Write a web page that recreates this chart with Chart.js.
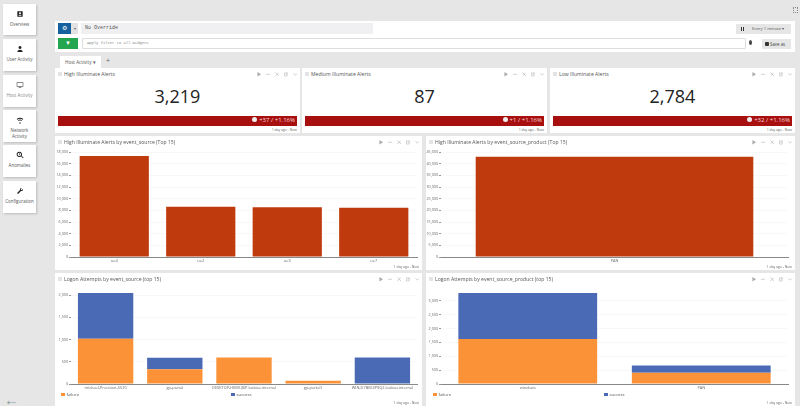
<!DOCTYPE html>
<html>
<head>
<meta charset="utf-8">
<title>Host Activity</title>
<script src="https://cdn.jsdelivr.net/npm/chart.js@4"></script>
<style>
  html, body { margin: 0; padding: 0; }
  body { width: 800px; height: 406px; overflow: hidden; position: relative; background: #e6e6e6; font-family: "Open Sans", sans-serif; color: #444; }
  .box { position: absolute; box-sizing: border-box; }
  .panel { position: absolute; background: #fff; box-sizing: border-box; }
  .panel canvas { position: absolute; left: 0; top: 0; }
  .title { position: absolute; left: 9px; top: 2px; font-size: 5.1px; line-height: 8px; color: #555; white-space: nowrap; }
  .title:before { content: ''; position: absolute; left: -6px; top: 2px; width: 3.5px; height: 3.5px; background: #e4e4e4; }
  .tools { position: absolute; right: 3px; top: 4px; height: 6px; display: flex; gap: 4.5px; }
  .tools svg { width: 4.5px; height: 4.5px; fill: #aaa; stroke: #aaa; }
  .ago { position: absolute; right: 3px; bottom: 1px; font-size: 3.4px; line-height: 5px; color: #666; white-space: nowrap; }
  .big { position: absolute; left: 0; right: 0; top: 15px; text-align: center; font-size: 18px; line-height: 26px; color: #222; }
  .delta { position: absolute; left: 3px; right: 3px; top: 48px; height: 9.5px; background: #a80f0f; color: #f4d8d8; font-size: 6px; line-height: 9.5px; text-align: right; padding-right: 2px; box-sizing: border-box; }
  .delta i { display: inline-block; width: 5px; height: 5px; border-radius: 50%; background: #eee; margin-right: 2px; }
  .tile { position: absolute; left: 3px; width: 33px; background: #fff; box-shadow: 1px 1px 2px #bbb; text-align: center; font-size: 4.5px; line-height: 5.6px; color: #555; box-sizing: border-box; padding-top: 6px; }
  .tile svg { display: block; margin: 0 auto 4px; width: 8px; height: 8px; fill: #222; }
  .legend { position: absolute; font-size: 4.2px; line-height: 6px; color: #555; white-space: nowrap; }
  .legend i { display: inline-block; width: 3.5px; height: 3.5px; margin-right: 2px; }
</style>
</head>
<body>
<div id="sidebar"></div>
<div class="box" style="left:55px;top:21px;width:740px;height:31px;background:#fff"></div>
<div class="box" style="left:58px;top:23px;width:13px;height:11px;background:#15609f;color:#fff;font-size:6px;line-height:11px;text-align:center">&#9881;</div>
<div class="box" style="left:71px;top:23px;width:7px;height:11px;background:#e2e2e2;color:#666;font-size:4px;line-height:11px;text-align:center">&#9662;</div>
<div class="box" style="left:81px;top:23px;width:292px;height:11px;background:#f0f0f2;font-family:'Liberation Mono',monospace;font-size:5px;line-height:11px;padding-left:4px;color:#555">No Override</div>
<div class="box" style="left:736px;top:24px;width:55px;height:10px;background:#e6e6e6;font-size:4.2px;line-height:10px;color:#555;padding-left:16px;white-space:nowrap">Every 1 minute &#9662;</div>
<div class="box" style="left:741px;top:27px;width:1px;height:4px;background:#333;box-shadow:2px 0 0 #333"></div>
<div class="box" style="left:58px;top:38px;width:20px;height:11px;background:#23a64f;color:#fff;font-size:6px;line-height:11px;text-align:center">&#9660;</div>
<div class="box" style="left:82px;top:38px;width:664px;height:11px;background:#fff;border:1px solid #ddd;border-radius:1px;font-family:'Liberation Mono',monospace;font-size:3.8px;line-height:9px;padding-left:4px;color:#888">Apply filter to all widgets</div>
<div class="box" style="left:749px;top:40px;width:3px;height:5px;background:#444;border-radius:50%"></div>
<div class="box" style="left:762px;top:39px;width:29px;height:10px;background:#e6e6e6;font-size:4.4px;line-height:10px;color:#444;padding-left:8px;white-space:nowrap">Save as</div>
<div class="box" style="left:765px;top:42px;width:4px;height:4px;background:#333;border-radius:1px"></div>
<div class="box" style="left:60px;top:56px;width:41px;height:12px;background:#fff;font-size:4.6px;line-height:12px;color:#555;padding-left:5px;white-space:nowrap">Host Activity &#9662;</div>
<div class="box" style="left:106px;top:56px;width:6px;height:10px;font-size:7px;line-height:10px;color:#666">+</div>
<div class="box" style="left:793px;top:7px;width:5px;height:6px;border:1px dotted #888"></div>
<div class="box" style="left:4px;top:391px;font-size:15px;line-height:16px;color:#8a9a9a">&#8592;</div>
<div id="panels"></div>

<script>
// values
const statTitles = ['High Illuminate Alerts', 'Medium Illuminate Alerts', 'Low Illuminate Alerts'];
const statValues = ['3,219', '87', '2,784'];
const statDeltas = ['+37 / +1.16%', '+1 / +1.16%', '+32 / +1.16%'];

const sourceLabels = ['ue4', 'ue2', 'ue3', 'ue7'];
const sourceValues = [17300, 8600, 8550, 8450];
const sourceTicks = [0, 2000, 4000, 6000, 8000, 10000, 12000, 14000, 16000, 18000];
const productLabels = ['PAN'];
const productValues = [43000];
const productTicks = [0, 5000, 10000, 15000, 20000, 25000, 30000, 35000, 40000, 45000];

const logonSourceLabels = ['michael-Precision-5520', 'gp-portal', 'DESKTOP-HMVUJ6P.lasbias.internal', 'gp-portal1', 'WIN-D7BE63P9Q2.lasbias.internal'];
const logonSourceFailure = [1020, 335, 595, 75, 0];
const logonSourceSuccess = [1030, 255, 0, 0, 595];
const logonSourceTicks = [0, 500, 1000, 1500, 2000];
const logonProductLabels = ['windows', 'PAN'];
const logonProductFailure = [1620, 405];
const logonProductSuccess = [1660, 265];
const logonProductTicks = [0, 500, 1000, 1500, 2000, 2500, 3000];

const RUST = '#bf3a0c';
const ORANGE = '#fb9238';
const BLUE = '#4a6ab5';

const toolIcons = [
  '<svg viewBox="0 0 10 10"><path d="M1 0l8 5-8 5z" stroke="none"/></svg>',
  '<svg viewBox="0 0 10 10"><path d="M0 5h10" stroke-width="1.2" fill="none"/></svg>',
  '<svg viewBox="0 0 10 10"><path d="M1 1l8 8M9 1l-8 8" stroke-width="1.2" fill="none"/></svg>',
  '<svg viewBox="0 0 10 10"><path d="M1 2h6v7H1zM4 6l5-5" stroke-width="1.1" fill="none"/></svg>',
  '<svg viewBox="0 0 10 10"><path d="M1 3l4 4 4-4" stroke-width="1.2" fill="none"/></svg>'
].join('');

const tiles = [
  { label: 'Overview', top: 4, height: 31, icon: 'M4 4h16v16H4zM12 7a3 3 0 1 0 .01 0zM7 17c0-3 10-3 10 0z' },
  { label: 'User Activity', top: 39, height: 32, icon: 'M12 3a4.5 4.5 0 1 0 .01 0zM4 21c0-9 16-9 16 0z' },
  { label: 'Host Activity', top: 75, height: 32, icon: 'M2 4h20v13H2zM4 6v9h16V6zM8 19h8v2H8z', dim: true },
  { label: 'Network Activity', top: 110, height: 32, icon: 'M12 19a2 2 0 1 0 .01 0zM2 9c6-5 14-5 20 0l-2 2c-5-4-11-4-16 0zM6 13c4-3 8-3 12 0l-2 2c-3-2-5-2-8 0z' },
  { label: 'Anomalies', top: 145, height: 32, icon: 'M10 2a8 8 0 1 0 .01 0zM10 5a5 5 0 1 1-.01 0zM15 16l2-2 6 6-2 2zM9 7h2v6H9z' },
  { label: 'Configuration', top: 181, height: 32, icon: 'M21 6l-4 4-3-3 4-4c-4-1-7 2-6 6L3 18l3 3 9-9c4 1 7-2 6-6z' }
];

document.getElementById('sidebar').innerHTML = tiles.map(t => `
  <div class="tile" style="top:${t.top}px;height:${t.height}px;${t.dim ? 'color:#888' : ''}">
    <svg viewBox="0 0 24 24" style="${t.dim ? 'fill:#666' : ''}"><path fill-rule="evenodd" d="${t.icon}"/></svg>${t.label}
  </div>`).join('');

function addPanel(left, top, width, height, title, inner) {
  const el = document.createElement('div');
  el.className = 'panel';
  el.style.cssText = `left:${left}px;top:${top}px;width:${width}px;height:${height}px`;
  el.innerHTML = `<div class="title">${title}</div><div class="tools">${toolIcons}</div>${inner || ''}<div class="ago">1 day ago - Now</div>`;
  document.getElementById('panels').appendChild(el);
  return el;
}

[55, 302, 550].forEach((left, i) => {
  addPanel(left, 68, 245, 65, statTitles[i],
    `<div class="big">${statValues[i]}</div><div class="delta"><i></i>${statDeltas[i]}</div>`);
});

// plot gives the wanted plot edges in panel pixels
function addChart(box, title, plot, labels, datasets, yMax, yTicks) {
  const panel = addPanel(box.left, box.top, box.width, box.height, title);
  const canvas = document.createElement('canvas');
  canvas.width = box.width;
  canvas.height = box.height;
  panel.insertBefore(canvas, panel.firstChild);

  new Chart(canvas, {
    type: 'bar',
    data: { labels, datasets },
    options: {
      responsive: false,
      animation: false,
      layout: { padding: { left: 0, right: box.width - plot.right, top: plot.top, bottom: 0 } },
      plugins: { legend: { display: false }, tooltip: { enabled: false } },
      datasets: { bar: { categoryPercentage: 0.8, barPercentage: 1, borderWidth: 0 } },
      scales: {
        x: {
          stacked: true,
          afterFit: s => { s.height = box.height - plot.bottom; },
          grid: { display: false, drawTicks: false },
          border: { color: '#888', width: 1 },
          ticks: { color: '#666', font: { family: 'Open Sans', size: 3.9 }, padding: 2, maxRotation: 0, autoSkip: false }
        },
        y: {
          stacked: true,
          min: 0,
          max: yMax,
          afterFit: s => { s.width = plot.left; },
          afterBuildTicks: s => { s.ticks = yTicks.map(value => ({ value })); },
          grid: { color: '#f8f8f8', tickColor: '#999', tickLength: 2 },
          border: { display: false },
          ticks: { autoSkip: false, color: '#666', font: { family: 'Open Sans', size: 3.7 }, padding: 1, callback: v => v.toLocaleString('en-US') }
        }
      }
    }
  });
  return panel;
}

function addLegend(panel, x1, x2) {
  panel.insertAdjacentHTML('beforeend', `
    <div class="legend" style="left:${x1}px;top:119px"><i style="background:${ORANGE}"></i>failure</div>
    <div class="legend" style="left:${x2}px;top:119px"><i style="background:${BLUE}"></i>success</div>`);
}

const stackedSets = (failure, success) => [
  { label: 'failure', data: failure, backgroundColor: ORANGE },
  { label: 'success', data: success, backgroundColor: BLUE }
];

addChart({ left: 55, top: 136, width: 367, height: 134 }, 'High Illuminate Alerts by event_source (Top 15)',
  { left: 16, right: 362, top: 16, bottom: 121 }, sourceLabels,
  [{ label: 'count', data: sourceValues, backgroundColor: RUST }], 18000, sourceTicks);

addChart({ left: 426, top: 136, width: 369, height: 134 }, 'High Illuminate Alerts by event_source_product (Top 15)',
  { left: 15, right: 362, top: 16, bottom: 121 }, productLabels,
  [{ label: 'count', data: productValues, backgroundColor: RUST }], 45000, productTicks);

const p5 = addChart({ left: 55, top: 273, width: 367, height: 133 }, 'Logon Attempts by event_source (top 15)',
  { left: 16, right: 362, top: 20, bottom: 111 }, logonSourceLabels,
  stackedSets(logonSourceFailure, logonSourceSuccess), 2050, logonSourceTicks);
addLegend(p5, 6, 176);

const p6 = addChart({ left: 426, top: 273, width: 369, height: 133 }, 'Logon Attempts by event_source_product (top 15)',
  { left: 15, right: 362, top: 20, bottom: 111 }, logonProductLabels,
  stackedSets(logonProductFailure, logonProductSuccess), 3280, logonProductTicks);
addLegend(p6, 7, 178);
</script>
</body>
</html>
